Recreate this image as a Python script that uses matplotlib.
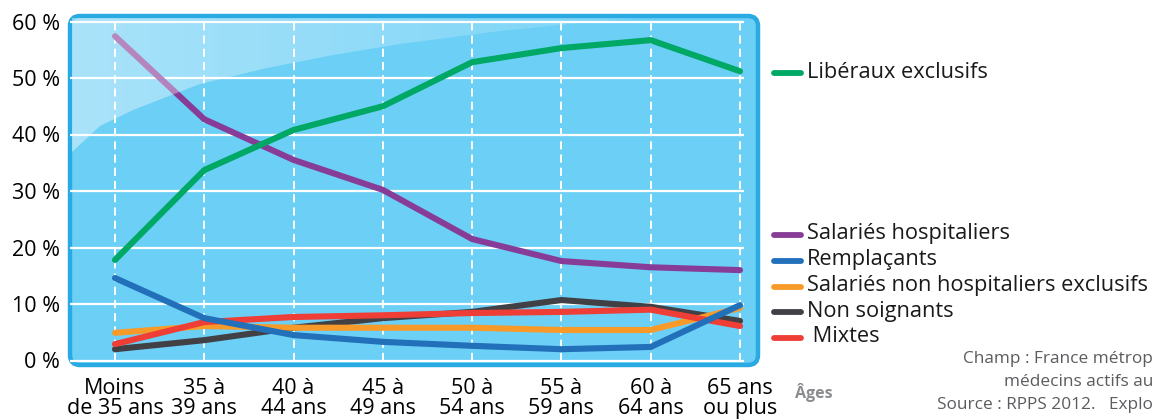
import matplotlib

matplotlib.use("Agg")
import matplotlib.pyplot as plt
import numpy as np
from matplotlib.patches import FancyBboxPatch, Polygon

# Répartition des médecins par mode d'exercice selon la tranche d'âge (%)
AGE_GROUPS = [
    "Moins\nde 35 ans", "35 à\n39 ans", "40 à\n44 ans", "45 à\n49 ans",
    "50 à\n54 ans", "55 à\n59 ans", "60 à\n64 ans", "65 ans\nou plus",
]
LIBERAUX = [17.8, 33.7, 40.8, 45.0, 52.8, 55.3, 56.7, 51.2]
SAL_HOSP = [57.4, 42.7, 35.5, 30.2, 21.5, 17.6, 16.5, 16.0]
REMPLACANTS = [14.6, 7.5, 4.5, 3.3, 2.6, 2.0, 2.4, 9.8]
SAL_NON_HOSP = [4.9, 6.1, 5.8, 5.8, 5.8, 5.4, 5.4, 9.3]
NON_SOIGNANTS = [2.0, 3.6, 5.8, 7.5, 8.6, 10.7, 9.5, 7.0]
MIXTES = [2.9, 6.8, 7.7, 8.0, 8.4, 8.6, 9.0, 6.1]
Y_TICKS = [0, 10, 20, 30, 40, 50, 60]

GREEN = "#00a866"
PURPLE = "#873d97"
BLUE = "#2170b9"
ORANGE = "#f89a2a"
DARK = "#414045"
RED = "#ee3e36"
PANEL = "#6ccff6"
BORDER = "#2aaae2"
FONT = ["Open Sans", "DejaVu Sans"]

plt.rcParams.update({"font.family": FONT})

W, H = 1154, 420
fig = plt.figure(figsize=(W / 100, H / 100), dpi=100)

# pixel-space layer behind the plot: the rounded blue panel
bg = fig.add_axes([0, 0, 1, 1], zorder=0)
bg.set_xlim(0, W)
bg.set_ylim(H, 0)
bg.axis("off")
bg.add_patch(FancyBboxPatch((70, 16), 688, 349, boxstyle="round,pad=0,rounding_size=10",
                            facecolor=PANEL, edgecolor=BORDER, linewidth=3.2))

ax = fig.add_axes([68 / W, (H - 367) / H, (760 - 68) / W, (367 - 15) / H], zorder=1)
ax.patch.set_alpha(0)
x = np.arange(len(AGE_GROUPS))
ax.set_xlim(-(115 - 68) / 89.3, 7 + (760 - 740) / 89.3)
ax.set_ylim(-(367 - 360.5) / 5.65, 60 + (21.5 - 15) / 5.65)
for s in ax.spines.values():
    s.set_visible(False)

ax.hlines(Y_TICKS, ax.get_xlim()[0] + 0.02, 7.04, color="white", linewidth=1.6, zorder=1)
ax.vlines(x, 0, 60, color="white", linewidth=1.4, linestyles=(0, (4.2, 2.6)), zorder=1)

series = [
    (NON_SOIGNANTS, DARK), (SAL_NON_HOSP, ORANGE), (MIXTES, RED),
    (REMPLACANTS, BLUE), (SAL_HOSP, PURPLE), (LIBERAUX, GREEN),
]
for i, (vals, color) in enumerate(series):
    ax.plot(x, vals, color=color, linewidth=4.4, solid_capstyle="round",
            solid_joinstyle="round", zorder=2 + i)

ax.set_xticks(x)
ax.set_xticklabels(AGE_GROUPS, fontsize=15.5, linespacing=0.95)
ax.set_yticks(Y_TICKS)
ax.set_yticklabels([f"{v} %" for v in Y_TICKS], fontsize=15.5)
ax.tick_params(length=0)
ax.tick_params(axis="x", pad=8)
ax.tick_params(axis="y", pad=6)

# top layer: glossy highlight in the upper-left corner of the panel
fg = fig.add_axes([0, 0, 1, 1], zorder=3)
fg.set_xlim(0, W)
fg.set_ylim(H, 0)
fg.axis("off")
edge = [(72, 152), (100, 126), (133, 110), (200, 84), (267, 68), (333, 55),
        (400, 44), (500, 31), (600, 21), (640, 18), (72, 18)]
gloss = Polygon(edge, closed=True, facecolor="none", edgecolor="none")
fg.add_patch(gloss)
grad = np.ones((2, 256, 4))
grad[..., 3] = np.linspace(0.42, 0.1, 256)
img = fg.imshow(grad, extent=(72, 640, 152, 18), aspect="auto", interpolation="bilinear")
img.set_clip_path(gloss)
fg.set_xlim(0, W)
fg.set_ylim(H, 0)

# legend
legend_items = [
    ("Libéraux exclusifs", GREEN, 73),
    ("Salariés hospitaliers", PURPLE, 235),
    ("Remplaçants", BLUE, 261),
    ("Salariés non hospitaliers exclusifs", ORANGE, 287),
    ("Non soignants", DARK, 312),
    (" Mixtes", RED, 338),
]
for label, color, yp in legend_items:
    fg.plot([774, 801], [yp, yp], color=color, linewidth=4.2, solid_capstyle="round")
    fg.text(807, yp - 1, label, fontsize=15.7, va="center", ha="left", color="#1a1a1a")

fg.text(795, 393, "Âges", fontsize=11.5, fontweight="bold", color="#8a8c8f",
        va="center", ha="left")

note_color = "#5b5c5f"
notes = [("Champ : France métrop", 359), ("médecins actifs au", 382),
         ("Source : RPPS 2012.   Explo", 405)]
for line, yp in notes:
    fg.text(1153, yp, line, fontsize=12.4, color=note_color, va="center", ha="right")

fig.savefig("out.png", dpi=100)
